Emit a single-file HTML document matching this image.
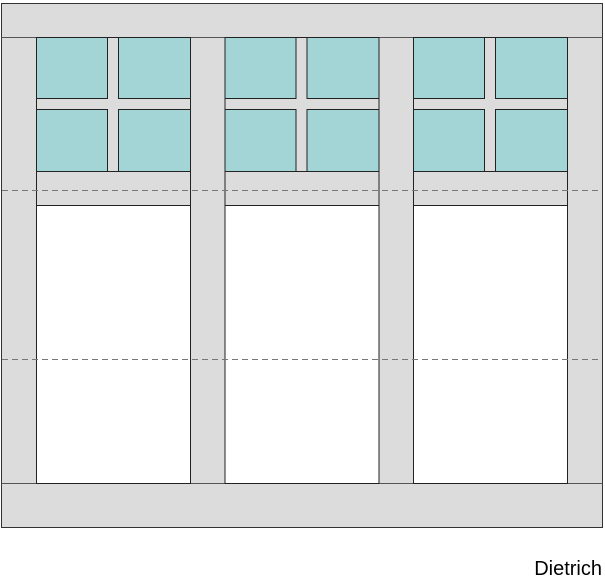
<!DOCTYPE html>
<html><head><style>body{margin:0;background:#fff}</style></head><body>
<svg width="605" height="580" xmlns="http://www.w3.org/2000/svg" style="display:block">
<rect x="1.5" y="3.5" width="601" height="524" fill="#dcdcdc" stroke="#333" stroke-width="1"/>
<line x1="1.5" y1="37.5" x2="602.5" y2="37.5" stroke="#555"/>
<line x1="1.5" y1="483.5" x2="602.5" y2="483.5" stroke="#555"/>
<g stroke="#222" stroke-width="1">
<g id="c1">
<rect x="36.5" y="37.5" width="154" height="134" fill="#dcdcdc"/>
<rect x="36.5" y="37.5" width="71" height="61" fill="#a3d5d6"/>
<rect x="118.5" y="37.5" width="72" height="61" fill="#a3d5d6"/>
<rect x="36.5" y="109.5" width="71" height="62" fill="#a3d5d6"/>
<rect x="118.5" y="109.5" width="72" height="62" fill="#a3d5d6"/>
<rect x="36.5" y="171.5" width="154" height="34" fill="#dcdcdc"/>
<rect x="36.5" y="205.5" width="154" height="278" fill="#fff"/>
</g>
<use href="#c1" x="188.5"/>
<use href="#c1" x="377"/>
</g>
<g stroke="#777" stroke-dasharray="6,4">
<line x1="2" y1="190.5" x2="602" y2="190.5"/>
<line x1="2" y1="359.5" x2="602" y2="359.5"/>
</g>
<text x="602" y="575" text-anchor="end" font-family="Liberation Sans, sans-serif" font-size="20" fill="#000">Dietrich</text>
</svg>
</body></html>
